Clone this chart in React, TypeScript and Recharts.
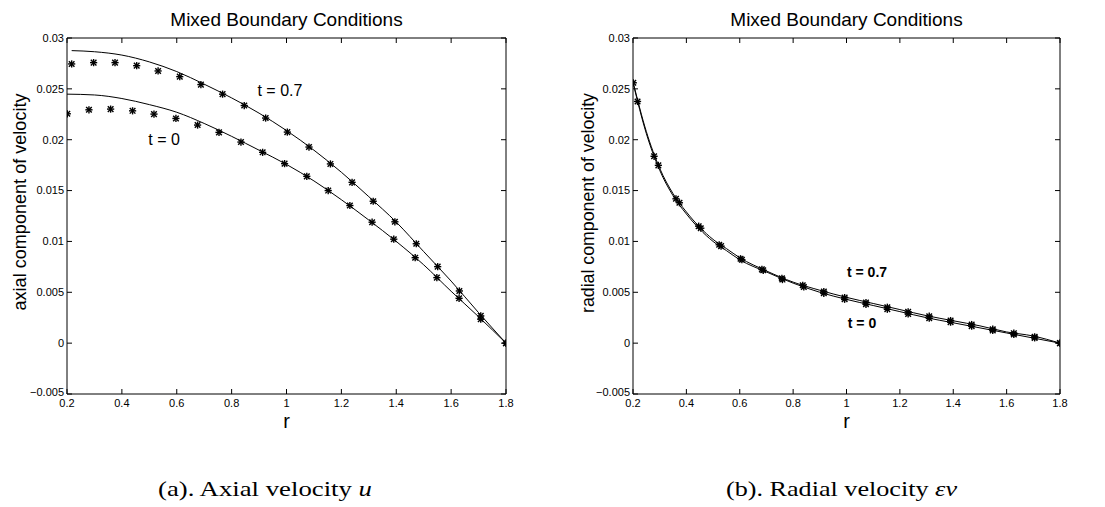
import React from 'react';
import { ComposedChart, Line, Scatter, XAxis, YAxis, ReferenceDot } from 'recharts';

const rTicks = [0.2, 0.4, 0.6, 0.8, 1, 1.2, 1.4, 1.6, 1.8];
const vTicks = [-0.005, 0, 0.005, 0.01, 0.015, 0.02, 0.025, 0.03];

// (a) axial velocity - solid curves
const axialLineR07 = [0.217, 0.3, 0.4, 0.5, 0.6, 0.7, 0.8, 0.9, 1.0, 1.1, 1.2, 1.3, 1.4, 1.5, 1.6, 1.7, 1.8];
const axialLineV07 = [0.02876, 0.02865, 0.02832, 0.02765, 0.0267, 0.02546, 0.02411, 0.02261, 0.0209, 0.01897, 0.0168, 0.0144, 0.0119, 0.009, 0.0061, 0.003, 0];
const axialLineR0 = [0.2, 0.3, 0.4, 0.5, 0.6, 0.7, 0.8, 0.9, 1.0, 1.1, 1.2, 1.3, 1.4, 1.5, 1.6, 1.7, 1.8];
const axialLineV0 = [0.02448, 0.0244, 0.02405, 0.02345, 0.0227, 0.0216, 0.02033, 0.01897, 0.01757, 0.01595, 0.0141, 0.0121, 0.01, 0.0077, 0.0051, 0.0026, 0];

// (a) axial velocity - star markers
const axialStarR07 = [0.217, 0.297, 0.375, 0.454, 0.532, 0.611, 0.688, 0.767, 0.846, 0.924, 1.003, 1.082, 1.16, 1.239, 1.316, 1.395, 1.473, 1.551, 1.63, 1.708, 1.8];
const axialStarV07 = [0.02745, 0.02758, 0.02758, 0.02728, 0.02676, 0.0262, 0.02542, 0.02448, 0.02336, 0.02213, 0.02075, 0.01928, 0.01762, 0.01581, 0.01395, 0.01193, 0.00977, 0.00752, 0.00513, 0.00268, 0];
const axialStarR0 = [0.201, 0.28, 0.359, 0.439, 0.517, 0.597, 0.676, 0.754, 0.834, 0.913, 0.993, 1.074, 1.152, 1.231, 1.312, 1.391, 1.469, 1.548, 1.629, 1.708, 1.8];
const axialStarV0 = [0.02255, 0.02294, 0.02301, 0.02284, 0.02252, 0.02209, 0.02144, 0.02072, 0.01977, 0.01876, 0.01765, 0.0164, 0.015, 0.01353, 0.01189, 0.01022, 0.0084, 0.00644, 0.00441, 0.00235, 0];

// (b) radial velocity - solid curves
const radialLineR = [0.2, 0.25, 0.3, 0.35, 0.4, 0.45, 0.5, 0.55, 0.6, 0.7, 0.8, 0.9, 1.0, 1.1, 1.2, 1.3, 1.4, 1.5, 1.6, 1.7, 1.8];
const radialLineV07 = [0.0257, 0.0208, 0.0172, 0.0147, 0.0129, 0.0114, 0.0102, 0.0093, 0.0084, 0.0071, 0.006, 0.0052, 0.0045, 0.0039, 0.0033, 0.0027, 0.0022, 0.0017, 0.0011, 0.0007, 0];
const radialLineV0 = [0.0256, 0.0206, 0.017, 0.0145, 0.0127, 0.0112, 0.01, 0.0091, 0.0082, 0.007, 0.0059, 0.005, 0.0043, 0.0037, 0.0031, 0.0025, 0.002, 0.0015, 0.001, 0.0005, 0];

// (b) radial velocity - star markers
const radialStarR07 = [0.201, 0.279, 0.361, 0.446, 0.523, 0.603, 0.683, 0.758, 0.836, 0.915, 0.993, 1.073, 1.153, 1.231, 1.31, 1.39, 1.469, 1.548, 1.627, 1.705, 1.8];
const radialStarV07 = [0.0256, 0.01837, 0.01419, 0.0115, 0.00967, 0.0083, 0.00725, 0.00637, 0.00569, 0.00507, 0.00448, 0.00399, 0.00353, 0.00307, 0.00265, 0.00222, 0.00183, 0.00137, 0.00098, 0.00062, 0];
const radialStarR0 = [0.217, 0.295, 0.374, 0.454, 0.53, 0.608, 0.688, 0.76, 0.84, 0.915, 0.993, 1.073, 1.153, 1.231, 1.31, 1.39, 1.469, 1.548, 1.627, 1.705, 1.8];
const radialStarV0 = [0.02376, 0.01748, 0.0138, 0.0113, 0.00954, 0.0082, 0.00716, 0.00625, 0.00552, 0.0049, 0.00431, 0.00382, 0.00333, 0.00287, 0.00245, 0.00206, 0.00167, 0.00125, 0.00085, 0.00052, 0];

const pts = (rs: number[], vs: number[]) => rs.map((r, i) => ({ r, v: vs[i] }));

const SANS = '"Liberation Sans", Arial, Helvetica, sans-serif';
const SERIF = '"Liberation Serif", "Times New Roman", serif';
const TICK_LEN = 5;
const GAP = 3;
const XGAP = 5;

const Star = (props: any) => {
  const { cx, cy } = props;
  if (cx == null || cy == null) return null;
  const s = 3.6;
  const d = 2.8;
  return (
    <g stroke="#000" strokeWidth={1.4}>
      <line x1={cx - s} y1={cy} x2={cx + s} y2={cy} />
      <line x1={cx} y1={cy - s} x2={cx} y2={cy + s} />
      <line x1={cx - d} y1={cy - d} x2={cx + d} y2={cy + d} />
      <line x1={cx - d} y1={cy + d} x2={cx + d} y2={cy - d} />
    </g>
  );
};

const fmtV = (v: number) => (v < 0 ? '\u2212' + String(-v) : String(v));

// ticks point inwards, MATLAB style
const LeftTick = (p: any) => (
  <g>
    <line x1={p.x + GAP} x2={p.x + GAP + TICK_LEN} y1={p.y} y2={p.y} stroke="#000" />
    <text
      x={p.x}
      y={p.payload.value < 0 ? p.y - 2 : p.y}
      dy="0.35em"
      textAnchor="end"
      fontSize={11}
      fontFamily={SANS}
      fill="#000"
    >
      {fmtV(p.payload.value)}
    </text>
  </g>
);
const BottomTick = (p: any) => (
  <g>
    <line x1={p.x} x2={p.x} y1={p.y - XGAP} y2={p.y - XGAP - TICK_LEN} stroke="#000" />
    <text x={p.x} y={p.y} dy="0.72em" textAnchor="middle" fontSize={11} fontFamily={SANS} fill="#000">
      {String(p.payload.value)}
    </text>
  </g>
);
const TopTick = (p: any) => <line x1={p.x} x2={p.x} y1={p.y} y2={p.y + TICK_LEN} stroke="#000" />;
const RightTick = (p: any) => <line x1={p.x} x2={p.x - TICK_LEN} y1={p.y} y2={p.y} stroke="#000" />;

type Note = { r: number; v: number; text: string; bold?: boolean; size: number };

function Panel(props: {
  lines: { r: number; v: number }[][];
  stars: { r: number; v: number }[][];
  notes: Note[];
  width: number;
  margin: { top: number; right: number; bottom: number; left: number };
}) {
  const { lines, stars, notes, width, margin } = props;
  return (
    <ComposedChart width={width} height={440} margin={margin} style={{ fontFamily: SANS }}>
      <XAxis
        type="number"
        dataKey="r"
        domain={[0.2, 1.8]}
        ticks={rTicks}
        allowDataOverflow
        height={1}
        tick={BottomTick}
        tickLine={false}
        tickSize={0}
        tickMargin={XGAP}
        stroke="#000"
      />
      <XAxis
        xAxisId="top"
        orientation="top"
        type="number"
        dataKey="r"
        domain={[0.2, 1.8]}
        ticks={rTicks}
        allowDataOverflow
        height={1}
        tick={TopTick}
        tickLine={false}
        tickSize={0}
        tickMargin={0}
        stroke="#000"
      />
      <YAxis
        type="number"
        domain={[-0.005, 0.03]}
        ticks={vTicks}
        allowDataOverflow
        width={1}
        tick={LeftTick}
        tickLine={false}
        tickSize={0}
        tickMargin={GAP}
        stroke="#000"
      />
      <YAxis
        yAxisId="right"
        orientation="right"
        type="number"
        domain={[-0.005, 0.03]}
        ticks={vTicks}
        allowDataOverflow
        width={1}
        tick={RightTick}
        tickLine={false}
        tickSize={0}
        tickMargin={0}
        stroke="#000"
      />
      {lines.map((d, i) => (
        <Line
          key={'l' + i}
          data={d}
          dataKey="v"
          type="monotone"
          stroke="#000"
          strokeWidth={1}
          dot={false}
          activeDot={false}
          isAnimationActive={false}
        />
      ))}
      {stars.map((d, i) => (
        <Scatter key={'s' + i} data={d} dataKey="v" shape={Star} isAnimationActive={false} />
      ))}
      {notes.map((n, i) => (
        <ReferenceDot
          key={'n' + i}
          x={n.r}
          y={n.v}
          r={0}
          fill="none"
          stroke="none"
          label={{
            value: n.text,
            position: 'center',
            fill: '#000',
            fontSize: n.size,
            fontWeight: n.bold ? 700 : 400,
            fontFamily: SANS,
          }}
        />
      ))}
    </ComposedChart>
  );
}

export default function App() {
  return (
    <div style={{ position: 'absolute', left: 0, top: 0, width: 1105, height: 507, background: '#fff' }}>
      <div style={{ position: 'absolute', left: 0, top: 0 }}>
        <Panel
          width={560}
          margin={{ top: 37, left: 66, right: 53, bottom: 45 }}
          lines={[pts(axialLineR07, axialLineV07), pts(axialLineR0, axialLineV0)]}
          stars={[pts(axialStarR07, axialStarV07), pts(axialStarR0, axialStarV0)]}
          notes={[
            { r: 0.976, v: 0.0249, text: 't = 0.7', size: 16 },
            { r: 0.554, v: 0.02, text: 't = 0', size: 16 },
          ]}
        />
      </div>
      <div style={{ position: 'absolute', left: 560, top: 0 }}>
        <Panel
          width={545}
          margin={{ top: 37, left: 72, right: 44, bottom: 45 }}
          lines={[pts(radialLineR, radialLineV07), pts(radialLineR, radialLineV0)]}
          stars={[pts(radialStarR07, radialStarV07), pts(radialStarR0, radialStarV0)]}
          notes={[
            { r: 1.077, v: 0.00696, text: 't = 0.7', size: 14, bold: true },
            { r: 1.058, v: 0.00196, text: 't = 0', size: 14, bold: true },
          ]}
        />
      </div>
      <svg
        width={1105}
        height={507}
        style={{ position: 'absolute', left: 0, top: 0, pointerEvents: 'none' }}
      >
        <g fontFamily={SANS} fill="#000">
          <text x={286.5} y={26} fontSize={19} textAnchor="middle">Mixed Boundary Conditions</text>
          <text x={846.5} y={26} fontSize={19} textAnchor="middle">Mixed Boundary Conditions</text>
          <text
            x={26}
            y={202}
            fontSize={19}
            textAnchor="middle"
            textLength={217}
            lengthAdjust="spacingAndGlyphs"
            transform="rotate(-90 26 202)"
          >
            axial component of velocity
          </text>
          <text
            x={594}
            y={203}
            fontSize={19}
            textAnchor="middle"
            textLength={220}
            lengthAdjust="spacingAndGlyphs"
            transform="rotate(-90 594 203)"
          >
            radial component of velocity
          </text>
          <text x={286.5} y={428} fontSize={20} textAnchor="middle">r</text>
          <text x={846.5} y={428} fontSize={20} textAnchor="middle">r</text>
        </g>
        <g fontFamily={SERIF} fill="#000" fontSize={22}>
          <text x={158} y={496} textLength={214} lengthAdjust="spacingAndGlyphs">
            (a). Axial velocity <tspan fontStyle="italic">u</tspan>
          </text>
          <text x={726} y={496} textLength={231} lengthAdjust="spacingAndGlyphs">
            (b). Radial velocity <tspan fontStyle="italic">εv</tspan>
          </text>
        </g>
      </svg>
    </div>
  );
}
